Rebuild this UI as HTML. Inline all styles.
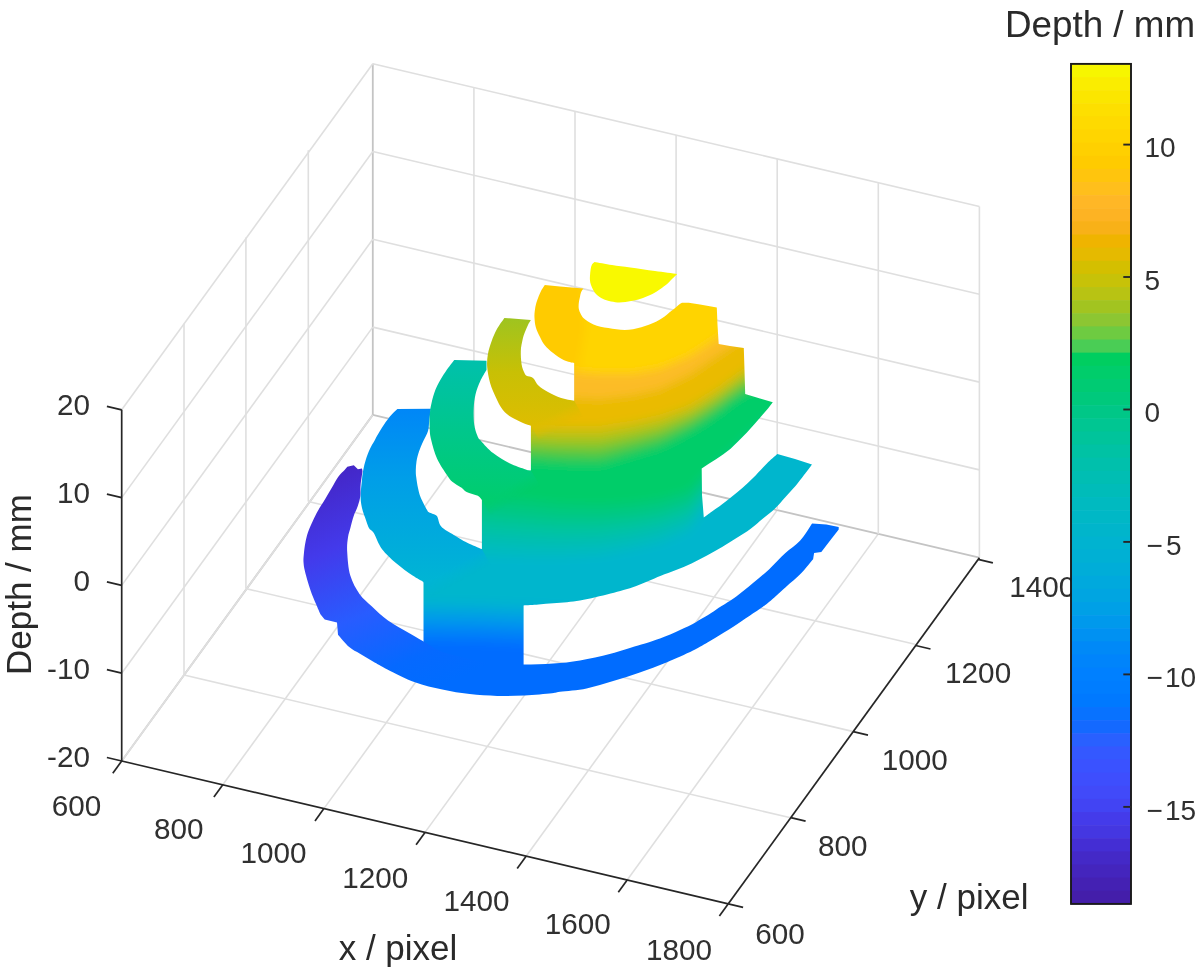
<!DOCTYPE html>
<html><head><meta charset="utf-8"><style>
html,body{margin:0;padding:0;background:#fff;overflow:hidden;width:1203px;height:979px;}
svg{display:block;filter:blur(0.45px);}
.g{stroke:#dfdfdf;stroke-width:1.6;}
.g2{stroke:#c4c4c4;stroke-width:1.8;}
.ax{stroke:#262626;stroke-width:1.7;}
.tk{font-family:"Liberation Sans",Arial,sans-serif;font-size:29.7px;fill:#303030;}
.ctk{font-family:"Liberation Sans",Arial,sans-serif;font-size:28px;fill:#303030;}
.lb{font-family:"Liberation Sans",Arial,sans-serif;font-size:35px;fill:#2a2a2a;}
.cbt{stroke:#262626;stroke-width:1.9;}
</style></head><body>
<svg width="1203" height="979" viewBox="0 0 1203 979">
<defs>
<clipPath id="blk"><path d="M544.8,284.9 L560.0,286.5 L583.4,288.6 C583.0,289.2 581.6,291.0 581.0,292.5 C580.4,294.0 580.2,296.1 579.8,297.8 C579.4,299.6 579.0,301.2 578.8,303.0 C578.6,304.8 578.5,307.1 578.8,308.8 C579.1,310.6 579.7,312.0 580.5,313.5 C581.3,315.0 582.1,316.7 583.4,318.0 C584.6,319.3 586.3,320.4 588.0,321.5 C589.7,322.6 591.4,323.6 593.5,324.5 C595.6,325.4 598.0,326.1 600.5,326.7 C603.0,327.3 605.6,327.7 608.3,328.1 C611.0,328.5 613.8,329.0 616.5,329.3 C619.2,329.6 622.0,330.0 624.8,330.0 C627.5,330.0 630.2,329.7 633.0,329.2 C635.8,328.7 638.7,327.9 641.3,327.2 C643.9,326.4 646.3,325.6 648.8,324.7 C651.2,323.8 653.8,322.8 656.0,321.7 C658.2,320.6 660.1,319.4 662.0,318.2 C663.9,317.0 665.4,315.7 667.1,314.4 C668.8,313.1 670.5,311.8 672.0,310.6 C673.5,309.4 675.0,308.1 676.3,307.0 C677.5,305.9 678.5,305.0 679.5,304.3 C680.5,303.6 681.6,303.1 682.0,302.8 L688.7,302.8 L700.0,304.5 L716.8,307.4 L717.5,325.0 L718.7,344.1 L730.0,346.0 L743.8,348.0 L744.5,370.0 L745.2,394.0 L760.0,398.5 L772.8,402.2 L768.0,408.5 L763.0,414.3 L755.0,423.5 L746.7,432.7 L738.5,441.0 L730.3,449.0 L723.0,454.5 L716.0,459.2 L708.8,463.8 L701.7,468.4 L702.0,495.0 L703.8,517.5 C705.2,516.5 709.0,513.7 712.0,511.5 C715.0,509.3 718.8,506.7 722.1,504.2 C725.4,501.7 728.6,499.2 732.0,496.5 C735.4,493.8 739.1,490.9 742.6,487.8 C746.1,484.7 749.6,481.4 753.0,478.0 C756.4,474.6 760.2,470.3 763.0,467.4 C765.8,464.5 767.6,462.7 770.0,460.5 C772.4,458.3 776.1,455.2 777.3,454.1 L795.0,459.0 L812.0,464.4 C810.7,466.2 806.7,471.4 804.0,475.0 C801.3,478.6 798.8,482.1 795.7,485.8 C792.6,489.5 788.9,493.2 785.5,497.0 C782.1,500.8 779.0,504.7 775.3,508.3 C771.5,511.9 767.1,515.1 763.0,518.5 C758.9,521.9 755.1,525.5 750.7,528.7 C746.3,532.0 741.3,534.9 736.5,538.0 C731.7,541.1 727.0,544.2 722.1,547.1 C717.2,550.0 712.1,552.8 707.0,555.5 C701.9,558.2 696.7,561.0 691.5,563.4 C686.3,565.8 681.1,568.0 676.0,570.0 C670.9,572.0 665.5,573.9 660.9,575.7 C656.3,577.5 652.6,579.3 648.5,581.0 C644.4,582.7 640.5,584.4 636.3,585.9 C632.1,587.4 627.8,588.7 623.5,590.0 C619.2,591.3 615.3,592.3 610.6,593.5 C605.9,594.7 600.4,596.1 595.3,597.3 C590.2,598.5 584.7,599.7 580.0,600.5 C575.3,601.3 571.5,601.7 567.0,602.2 C562.5,602.7 558.0,602.9 553.2,603.3 C548.5,603.7 543.4,604.1 538.5,604.5 C533.6,604.9 526.1,605.2 523.6,605.4 L523.6,664.6 L523.6,676.0 L480.0,673.0 L440.0,662.0 L423.5,652.0 L423.5,580.9 L450.0,565.0 L481.9,549.1 L481.9,500.1 L505.0,485.0 L530.9,470.5 L530.9,424.5 L550.0,412.0 L574.2,400.8 L574.2,363.1 C572.5,362.6 567.6,362.0 564.1,360.3 C560.6,358.6 556.3,355.5 553.1,353.0 C549.9,350.5 547.2,348.2 545.0,345.5 C542.8,342.8 541.5,340.1 540.0,337.0 C538.5,333.9 536.7,330.4 535.8,327.2 C534.9,324.0 534.7,320.8 534.5,318.0 C534.3,315.2 534.5,313.2 534.8,310.7 C535.1,308.2 535.6,305.4 536.3,303.0 C537.0,300.6 537.9,298.2 538.8,296.0 C539.7,293.8 540.5,291.9 541.5,290.0 C542.5,288.1 544.2,285.8 544.8,284.9 Z"/></clipPath>
<filter id="bl" x="-20%" y="-20%" width="140%" height="140%"><feGaussianBlur stdDeviation="5"/></filter>
<linearGradient id="gr6" gradientUnits="userSpaceOnUse" x1="335" y1="470" x2="430" y2="690">
<stop offset="0" stop-color="rgb(68,38,198)"/><stop offset="0.3" stop-color="rgb(67,58,235)"/><stop offset="0.6" stop-color="rgb(40,92,255)"/><stop offset="0.85" stop-color="rgb(5,105,255)"/><stop offset="1" stop-color="rgb(0,108,255)"/>
</linearGradient>
<linearGradient id="gr5" gradientUnits="userSpaceOnUse" x1="0" y1="410" x2="0" y2="580">
<stop offset="0" stop-color="rgb(0,135,247)"/><stop offset="0.4" stop-color="rgb(0,158,232)"/><stop offset="1" stop-color="rgb(0,180,212)"/>
</linearGradient>
<linearGradient id="gr4" gradientUnits="userSpaceOnUse" x1="0" y1="360" x2="0" y2="500">
<stop offset="0" stop-color="rgb(0,192,172)"/><stop offset="0.5" stop-color="rgb(0,199,140)"/><stop offset="1" stop-color="rgb(0,205,110)"/>
</linearGradient>
<linearGradient id="gr3" gradientUnits="userSpaceOnUse" x1="0" y1="318" x2="0" y2="426">
<stop offset="0" stop-color="rgb(158,196,32)"/><stop offset="0.5" stop-color="rgb(200,192,5)"/><stop offset="1" stop-color="rgb(222,189,0)"/>
</linearGradient>

<linearGradient id="mg3" gradientUnits="userSpaceOnUse" x1="553.5" y1="414.4" x2="561.2" y2="428.4"><stop offset="0" stop-color="#fff"/><stop offset="1" stop-color="#000"/></linearGradient>
<linearGradient id="mg4" gradientUnits="userSpaceOnUse" x1="507.4" y1="487.0" x2="515.7" y2="500.7"><stop offset="0" stop-color="#fff"/><stop offset="1" stop-color="#000"/></linearGradient>
<linearGradient id="mg5" gradientUnits="userSpaceOnUse" x1="453.7" y1="566.8" x2="461.3" y2="580.8"><stop offset="0" stop-color="#fff"/><stop offset="1" stop-color="#000"/></linearGradient>
<mask id="m3" maskUnits="userSpaceOnUse" x="0" y="0" width="1203" height="979"><rect width="1203" height="979" fill="url(#mg3)"/></mask>
<mask id="m4" maskUnits="userSpaceOnUse" x="0" y="0" width="1203" height="979"><rect width="1203" height="979" fill="url(#mg4)"/></mask>
<mask id="m5" maskUnits="userSpaceOnUse" x="0" y="0" width="1203" height="979"><rect width="1203" height="979" fill="url(#mg5)"/></mask>
</defs>
<rect width="1203" height="979" fill="#fff"/>
<g>
<line x1="121.7" y1="761" x2="372.8" y2="414.9" class="g2"/>
<line x1="222.8" y1="784.8" x2="473.9" y2="438.7" class="g"/>
<line x1="323.9" y1="808.6" x2="575" y2="462.5" class="g"/>
<line x1="425" y1="832.4" x2="676.1" y2="486.3" class="g"/>
<line x1="526.1" y1="856.2" x2="777.2" y2="510.1" class="g"/>
<line x1="627.2" y1="880" x2="878.3" y2="533.9" class="g"/>
<line x1="728.3" y1="903.8" x2="979.4" y2="557.7" class="g"/>
<line x1="184" y1="675" x2="790.6" y2="817.8" class="g"/>
<line x1="245.9" y1="588.6" x2="852.5" y2="731.4" class="g"/>
<line x1="308.3" y1="501.5" x2="914.9" y2="644.3" class="g"/>
<line x1="372.8" y1="414.9" x2="979.4" y2="557.7" class="g2"/>
<line x1="184" y1="675" x2="184" y2="323.8" class="g"/>
<line x1="245.9" y1="588.6" x2="245.9" y2="237.4" class="g"/>
<line x1="308.3" y1="501.5" x2="308.3" y2="150.3" class="g"/>
<line x1="372.8" y1="414.9" x2="372.8" y2="63.7" class="g2"/>
<line x1="121.7" y1="761" x2="372.8" y2="414.9" class="g"/>
<line x1="121.7" y1="673.2" x2="372.8" y2="327.1" class="g"/>
<line x1="121.7" y1="585.4" x2="372.8" y2="239.3" class="g"/>
<line x1="121.7" y1="497.6" x2="372.8" y2="151.5" class="g"/>
<line x1="121.7" y1="409.8" x2="372.8" y2="63.7" class="g"/>
<line x1="473.9" y1="438.7" x2="473.9" y2="87.5" class="g"/>
<line x1="575" y1="462.5" x2="575" y2="111.3" class="g"/>
<line x1="676.1" y1="486.3" x2="676.1" y2="135.1" class="g"/>
<line x1="777.2" y1="510.1" x2="777.2" y2="158.9" class="g"/>
<line x1="878.3" y1="533.9" x2="878.3" y2="182.7" class="g"/>
<line x1="979.4" y1="557.7" x2="979.4" y2="206.5" class="g"/>
<line x1="372.8" y1="327.1" x2="979.4" y2="469.9" class="g"/>
<line x1="372.8" y1="239.3" x2="979.4" y2="382.1" class="g"/>
<line x1="372.8" y1="151.5" x2="979.4" y2="294.3" class="g"/>
<line x1="372.8" y1="63.7" x2="979.4" y2="206.5" class="g"/>
</g>
<path d="M594.5,262.0 C597.4,262.5 606.0,264.1 612.0,265.0 C618.0,265.9 623.1,266.5 630.3,267.5 C637.5,268.5 647.2,269.9 655.0,271.0 C662.8,272.1 673.5,273.4 677.2,273.9 C676.3,274.8 673.7,277.3 672.0,279.0 C670.3,280.7 669.1,282.3 667.1,284.0 C665.1,285.7 662.5,287.5 660.0,289.2 C657.5,290.9 655.2,292.6 652.4,294.1 C649.6,295.6 646.1,296.9 643.0,298.0 C639.9,299.1 636.9,299.9 634.0,300.6 C631.1,301.3 628.3,301.7 625.5,302.0 C622.7,302.3 620.1,302.6 617.4,302.4 C614.6,302.2 611.5,301.6 609.0,301.0 C606.5,300.4 604.7,299.7 602.7,298.7 C600.7,297.7 598.5,296.4 597.0,295.0 C595.5,293.6 594.5,292.1 593.5,290.4 C592.5,288.7 591.6,286.8 591.0,285.0 C590.4,283.2 590.0,281.4 589.9,279.4 C589.8,277.4 590.1,274.8 590.2,273.0 C590.4,271.2 590.5,269.8 590.8,268.4 C591.1,267.0 591.4,265.6 592.0,264.5 C592.6,263.4 594.1,262.4 594.5,262.0 Z" fill="rgb(249,249,0)"/>
<g clip-path="url(#blk)"><g filter="url(#bl)">
<rect x="250" y="200" width="700" height="600" fill="rgb(255,212,0)"/>
<path d="M500.0,270.0 L582.0,270.0 L585.0,330.0 L578.0,372.0 L500.0,372.0 Z" fill="rgb(255,203,0)"/>
<path d="M300.0,362.0 L480.0,362.0 L530.0,366.0 L560.0,371.0 L600.0,374.0 L633.0,374.0 L660.0,369.0 L689.0,357.0 L705.0,347.0 L718.0,338.0 L732.0,326.0 L745.0,315.0 L770.0,300.0 L900.0,300.0 L900.0,760.0 L300.0,760.0 Z" fill="rgb(252,188,40)"/>
<path d="M300.0,390.0 L480.0,390.0 L530.0,393.0 L560.0,397.0 L600.0,399.0 L633.0,395.0 L660.0,389.0 L689.0,375.0 L705.0,364.0 L718.0,355.0 L732.0,346.0 L745.0,338.0 L770.0,330.0 L900.0,325.0 L900.0,760.0 L300.0,760.0 Z" fill="rgb(234,187,0)"/>
<path d="M300.0,424.0 L480.0,424.0 L530.0,425.0 L560.0,426.0 L600.0,426.0 L633.0,421.0 L660.0,415.0 L689.0,405.0 L705.0,396.0 L718.0,388.0 L732.0,378.0 L745.0,368.0 L770.0,355.0 L900.0,340.0 L900.0,760.0 L300.0,760.0 Z" fill="rgb(210,191,7)"/>
<path d="M300.0,431.2 L480.0,431.2 L530.0,432.4 L560.0,433.6 L600.0,433.8 L633.0,427.8 L660.0,421.4 L689.0,410.4 L705.0,401.2 L718.0,393.0 L732.0,382.8 L745.0,373.2 L770.0,361.0 L900.0,345.0 L900.0,760.0 L300.0,760.0 Z" fill="rgb(178,195,24)"/>
<path d="M300.0,438.4 L480.0,438.4 L530.0,439.8 L560.0,441.2 L600.0,441.6 L633.0,434.6 L660.0,427.8 L689.0,415.8 L705.0,406.4 L718.0,398.0 L732.0,387.6 L745.0,378.4 L770.0,367.0 L900.0,350.0 L900.0,760.0 L300.0,760.0 Z" fill="rgb(138,198,44)"/>
<path d="M300.0,445.6 L480.0,445.6 L530.0,447.2 L560.0,448.8 L600.0,449.4 L633.0,441.4 L660.0,434.2 L689.0,421.2 L705.0,411.6 L718.0,403.0 L732.0,392.4 L745.0,383.6 L770.0,373.0 L900.0,355.0 L900.0,760.0 L300.0,760.0 Z" fill="rgb(90,200,65)"/>
<path d="M300.0,452.8 L480.0,452.8 L530.0,454.6 L560.0,456.4 L600.0,457.2 L633.0,448.2 L660.0,440.6 L689.0,426.6 L705.0,416.8 L718.0,408.0 L732.0,397.2 L745.0,388.8 L770.0,379.0 L900.0,360.0 L900.0,760.0 L300.0,760.0 Z" fill="rgb(42,203,88)"/>
<path d="M300.0,460.0 L480.0,460.0 L530.0,462.0 L560.0,464.0 L600.0,465.0 L633.0,455.0 L660.0,447.0 L689.0,432.0 L705.0,422.0 L718.0,413.0 L732.0,402.0 L745.0,394.0 L770.0,385.0 L900.0,365.0 L900.0,760.0 L300.0,760.0 Z" fill="rgb(0,205,105)"/>
<path d="M300.0,496.0 L480.0,496.0 L530.0,500.0 L560.0,503.0 L600.0,504.0 L633.0,502.0 L660.0,498.0 L689.0,490.0 L705.0,472.0 L718.0,460.0 L732.0,448.0 L745.0,436.0 L770.0,412.0 L900.0,380.0 L900.0,760.0 L300.0,760.0 Z" fill="rgb(0,202,122)"/>
<path d="M300.0,508.0 L480.0,508.0 L530.0,511.6 L560.0,514.0 L600.0,514.4 L633.0,511.6 L660.0,507.2 L689.0,498.4 L705.0,479.6 L718.0,467.6 L732.0,455.6 L745.0,443.6 L770.0,419.6 L900.0,386.0 L900.0,760.0 L300.0,760.0 Z" fill="rgb(0,199,140)"/>
<path d="M300.0,520.0 L480.0,520.0 L530.0,523.2 L560.0,525.0 L600.0,524.8 L633.0,521.2 L660.0,516.4 L689.0,506.8 L705.0,487.2 L718.0,475.2 L732.0,463.2 L745.0,451.2 L770.0,427.2 L900.0,392.0 L900.0,760.0 L300.0,760.0 Z" fill="rgb(0,196,160)"/>
<path d="M300.0,532.0 L480.0,532.0 L530.0,534.8 L560.0,536.0 L600.0,535.2 L633.0,530.8 L660.0,525.6 L689.0,515.2 L705.0,494.8 L718.0,482.8 L732.0,470.8 L745.0,458.8 L770.0,434.8 L900.0,398.0 L900.0,760.0 L300.0,760.0 Z" fill="rgb(0,191,177)"/>
<path d="M300.0,544.0 L480.0,544.0 L530.0,546.4 L560.0,547.0 L600.0,545.6 L633.0,540.4 L660.0,534.8 L689.0,523.6 L705.0,502.4 L718.0,490.4 L732.0,478.4 L745.0,466.4 L770.0,442.4 L900.0,404.0 L900.0,760.0 L300.0,760.0 Z" fill="rgb(0,187,192)"/>
<path d="M300.0,556.0 L480.0,556.0 L530.0,558.0 L560.0,558.0 L600.0,556.0 L633.0,550.0 L660.0,544.0 L689.0,532.0 L705.0,510.0 L718.0,498.0 L732.0,486.0 L745.0,474.0 L770.0,450.0 L900.0,410.0 L900.0,760.0 L300.0,760.0 Z" fill="rgb(0,182,205)"/>
<path d="M300.0,600.0 L480.0,603.0 L530.0,605.0 L560.0,607.0 L600.0,610.0 L633.0,613.0 L660.0,615.0 L689.0,617.0 L705.0,619.0 L718.0,621.0 L732.0,623.0 L745.0,625.0 L770.0,629.0 L900.0,635.0 L900.0,760.0 L300.0,760.0 Z" fill="rgb(0,173,216)"/>
<path d="M300.0,608.0 L480.0,611.0 L530.0,613.0 L560.0,615.0 L600.0,617.8 L633.0,620.6 L660.0,622.6 L689.0,624.6 L705.0,626.6 L718.0,628.6 L732.0,630.6 L745.0,632.6 L770.0,636.2 L900.0,642.0 L900.0,760.0 L300.0,760.0 Z" fill="rgb(0,161,227)"/>
<path d="M300.0,616.0 L480.0,619.0 L530.0,621.0 L560.0,623.0 L600.0,625.6 L633.0,628.2 L660.0,630.2 L689.0,632.2 L705.0,634.2 L718.0,636.2 L732.0,638.2 L745.0,640.2 L770.0,643.4 L900.0,649.0 L900.0,760.0 L300.0,760.0 Z" fill="rgb(0,148,238)"/>
<path d="M300.0,624.0 L480.0,627.0 L530.0,629.0 L560.0,631.0 L600.0,633.4 L633.0,635.8 L660.0,637.8 L689.0,639.8 L705.0,641.8 L718.0,643.8 L732.0,645.8 L745.0,647.8 L770.0,650.6 L900.0,656.0 L900.0,760.0 L300.0,760.0 Z" fill="rgb(0,133,246)"/>
<path d="M300.0,632.0 L480.0,635.0 L530.0,637.0 L560.0,639.0 L600.0,641.2 L633.0,643.4 L660.0,645.4 L689.0,647.4 L705.0,649.4 L718.0,651.4 L732.0,653.4 L745.0,655.4 L770.0,657.8 L900.0,663.0 L900.0,760.0 L300.0,760.0 Z" fill="rgb(0,120,252)"/>
<path d="M300.0,640.0 L480.0,643.0 L530.0,645.0 L560.0,647.0 L600.0,649.0 L633.0,651.0 L660.0,653.0 L689.0,655.0 L705.0,657.0 L718.0,659.0 L732.0,661.0 L745.0,663.0 L770.0,665.0 L900.0,670.0 L900.0,760.0 L300.0,760.0 Z" fill="rgb(0,108,255)"/>
</g></g>
<path d="M397.4,409.1 L431.0,408.7 C430.7,410.6 429.8,416.3 429.3,420.0 C428.8,423.7 429.1,427.1 428.1,430.7 C427.1,434.3 424.6,438.0 423.1,441.5 C421.6,445.0 420.1,448.2 419.0,451.5 C417.9,454.8 417.0,458.4 416.5,461.5 C416.0,464.6 415.9,467.4 415.8,470.0 C415.8,472.6 415.8,474.1 416.2,477.1 C416.6,480.1 417.2,484.6 418.0,488.0 C418.8,491.4 419.2,493.9 420.7,497.5 C422.2,501.1 425.5,507.3 426.9,509.8 C428.3,512.3 427.9,511.6 428.9,512.3 C429.9,513.0 431.6,513.2 433.0,513.9 C434.4,514.6 435.7,514.2 437.1,516.3 C438.5,518.4 438.5,523.5 441.2,526.6 C443.9,529.7 450.2,532.7 453.4,534.7 C456.6,536.8 458.0,537.5 460.4,538.9 C462.8,540.3 464.1,541.2 467.7,542.9 C471.3,544.6 479.5,548.1 481.9,549.1 L491.5,566.7 L433.1,598.5 L423.5,582.0 C421.7,580.9 417.2,578.7 412.6,575.6 C408.1,572.5 401.3,567.7 396.2,563.3 C391.1,558.9 385.6,554.0 381.9,549.0 C378.2,544.0 375.9,536.4 373.8,533.0 C371.7,529.6 370.6,530.6 369.3,528.5 C368.0,526.4 367.3,523.8 366.1,520.4 C364.9,517.0 362.9,512.2 362.0,508.1 C361.1,504.0 360.6,500.6 360.6,495.8 C360.6,491.0 361.6,483.8 362.0,479.5 C362.4,475.2 362.7,473.1 363.3,469.8 C363.9,466.5 364.7,463.3 365.8,459.8 C366.9,456.3 368.4,452.3 369.9,449.0 C371.4,445.7 372.9,443.3 374.9,439.9 C376.8,436.4 379.1,432.2 381.6,428.3 C384.1,424.4 387.3,419.8 389.9,416.6 C392.5,413.4 396.1,410.4 397.4,409.1 Z" fill="url(#gr5)" mask="url(#m5)"/>
<path d="M454.3,360.1 L486.5,360.8 L486.5,370.1 C485.4,372.0 481.9,377.4 480.1,381.5 C478.3,385.6 476.6,389.9 475.5,394.4 C474.4,398.9 473.9,403.7 473.7,408.7 C473.5,413.7 473.6,419.8 474.2,424.4 C474.8,428.9 476.4,433.2 477.5,436.0 C478.6,438.8 478.4,438.1 481.0,441.0 C483.6,443.9 488.4,449.4 493.1,453.1 C497.9,456.8 504.1,460.6 509.5,463.3 C515.0,466.0 522.2,468.3 525.8,469.5 C529.4,470.7 530.0,470.3 530.9,470.5 L541.2,487.6 L492.2,517.2 L481.9,500.1 C481.2,499.4 480.4,497.2 477.9,495.8 C475.3,494.4 469.3,493.2 466.6,491.9 C463.9,490.6 464.0,489.5 461.6,487.8 C459.2,486.1 454.7,483.8 452.3,481.7 C449.9,479.6 449.8,479.3 447.3,475.5 C444.8,471.7 439.8,464.6 437.1,458.7 C434.4,452.8 432.4,445.0 431.2,440.0 C430.0,435.0 429.9,433.0 429.7,428.7 C429.4,424.4 429.3,419.2 429.7,414.4 C430.1,409.6 430.9,404.9 432.2,400.1 C433.4,395.3 434.9,390.6 437.2,385.8 C439.4,381.0 442.8,375.8 445.7,371.5 C448.6,367.2 452.9,362.0 454.3,360.1 Z" fill="url(#gr4)" mask="url(#m4)"/>
<path d="M504.4,317.9 L530.8,320.0 C530.3,320.8 528.8,323.3 528.0,325.0 C527.2,326.7 526.5,328.2 525.8,330.0 C525.0,331.8 524.1,334.1 523.5,336.0 C522.9,337.9 522.6,339.5 522.2,341.5 C521.8,343.5 521.2,345.9 521.0,348.0 C520.8,350.1 520.8,352.1 520.8,354.3 C520.8,356.5 521.0,358.9 521.2,361.0 C521.4,363.1 521.7,365.4 522.2,367.2 C522.7,369.0 523.3,370.6 524.0,372.0 C524.7,373.4 525.0,374.8 526.5,375.8 C528.0,376.8 531.0,376.2 533.0,377.9 C535.0,379.6 536.2,383.4 538.7,385.8 C541.2,388.2 544.4,390.0 548.0,392.0 C551.6,394.0 556.0,396.3 560.4,397.8 C564.8,399.3 571.9,400.3 574.2,400.8 L583.8,418.3 L540.5,442.0 L530.9,425.7 C529.6,425.2 526.2,424.4 523.0,423.0 C519.8,421.6 514.9,419.4 511.5,417.3 C508.1,415.2 505.5,413.5 502.9,410.1 C500.3,406.8 497.9,401.7 495.8,397.2 C493.7,392.7 491.5,387.9 490.1,382.9 C488.7,377.9 487.6,372.0 487.2,367.2 C486.8,362.4 487.2,358.6 487.9,354.3 C488.6,350.0 489.9,345.8 491.5,341.5 C493.1,337.2 495.1,332.5 497.2,328.6 C499.3,324.7 503.2,319.7 504.4,317.9 Z" fill="url(#gr3)" mask="url(#m3)"/>
<path d="M344.8,469.7 C343.7,470.9 340.5,473.7 338.3,476.7 C336.1,479.7 334.0,484.0 331.8,487.7 C329.6,491.4 327.5,495.2 325.2,499.1 C322.9,503.0 319.9,507.4 317.8,511.0 C315.8,514.6 314.5,517.2 312.9,520.8 C311.3,524.3 309.2,528.8 308.0,532.3 C306.8,535.8 306.2,538.6 305.5,542.1 C304.8,545.6 304.2,550.2 303.9,553.5 C303.6,556.8 303.3,559.0 303.5,562.0 C303.7,565.0 303.9,566.9 305.0,571.5 C306.1,576.1 308.6,584.5 310.4,589.9 C312.2,595.3 314.3,599.9 316.0,604.0 C317.7,608.1 319.8,612.7 320.6,614.4 L324.7,619.5 L337.0,622.6 L338.0,634.8 C339.9,636.8 345.5,643.9 349.2,647.1 C352.9,650.3 356.0,651.4 360.0,653.8 C364.0,656.2 368.4,658.9 373.0,661.5 C377.6,664.1 380.4,665.9 387.4,669.4 C394.4,672.9 405.8,678.9 414.9,682.2 C424.0,685.6 433.2,687.5 442.3,689.5 C451.4,691.5 460.6,693.0 469.7,694.1 C478.8,695.2 488.0,695.7 497.2,695.9 C506.4,696.1 515.5,696.0 524.6,695.5 C533.7,695.0 546.1,693.8 552.0,693.2 C557.9,692.6 554.2,692.6 560.0,691.8 C565.8,691.0 577.7,690.2 586.6,688.4 C595.5,686.6 604.3,683.8 613.2,681.1 C622.1,678.5 630.9,675.6 639.8,672.5 C648.7,669.4 657.5,666.2 666.4,662.5 C675.3,658.8 685.7,654.1 693.0,650.5 C700.3,646.9 704.0,644.5 710.0,641.0 C716.0,637.5 723.1,633.2 729.0,629.5 C734.9,625.8 740.2,622.1 745.4,618.6 C750.6,615.1 756.1,611.5 760.0,608.8 C763.9,606.0 764.8,605.7 769.0,602.1 C773.2,598.5 780.1,592.2 785.4,587.4 C790.7,582.6 796.3,578.2 800.9,573.5 C805.5,568.8 811.1,561.6 813.1,559.2 L814.1,553.1 L821.3,552.1 L831.5,538.8 L838.7,529.6 L838.7,527.1 L826.4,524.5 L812.1,523.5 C810.1,526.4 804.5,535.9 800.0,540.8 C795.5,545.7 790.6,548.3 785.4,553.1 C780.2,557.9 774.5,564.4 769.0,569.4 C763.5,574.4 758.2,578.8 752.7,583.3 C747.2,587.8 741.8,592.4 736.3,596.4 C730.8,600.4 723.9,604.4 720.0,607.0 C716.1,609.6 716.7,609.6 712.7,612.1 C708.8,614.6 701.8,618.9 696.3,621.9 C690.8,624.9 686.0,627.2 680.0,630.0 C674.0,632.8 666.5,636.1 660.0,638.5 C653.5,640.9 649.5,642.1 641.3,644.6 C633.1,647.1 620.8,651.1 610.6,653.8 C600.4,656.4 589.6,658.9 580.0,660.5 C570.4,662.1 562.6,662.9 553.2,663.6 C543.8,664.3 533.3,664.5 523.6,664.6 C513.9,664.7 504.8,665.1 495.0,664.0 C485.2,662.9 474.2,660.2 465.0,658.0 C455.8,655.8 447.0,653.8 440.0,651.0 C433.0,648.2 428.1,644.0 422.8,641.0 C417.6,638.0 414.3,636.2 408.5,632.8 C402.7,629.4 394.1,624.9 388.0,620.5 C381.9,616.1 376.4,610.6 371.7,606.2 C366.9,601.8 363.1,599.1 359.5,594.0 C355.9,588.9 352.4,582.6 350.3,575.6 C348.2,568.6 347.6,558.4 347.2,552.0 C346.8,545.6 347.4,541.3 348.0,537.2 C348.6,533.1 349.6,530.9 350.5,527.4 C351.4,523.9 352.5,519.5 353.7,516.0 C354.9,512.5 356.7,509.4 357.8,506.1 C358.9,502.8 359.8,499.8 360.3,496.3 C360.8,492.8 360.2,489.2 360.6,485.0 C361.0,480.8 362.2,473.6 362.5,471.3 L362.0,468.5 L357.9,469.3 L353.8,465.2 L347.3,466.8 L344.8,469.7 Z" fill="url(#gr6)"/>
<g>
<line x1="121.7" y1="761" x2="728.3" y2="903.8" class="ax"/>
<line x1="728.3" y1="903.8" x2="979.4" y2="557.7" class="ax"/>
<line x1="121.7" y1="761" x2="121.7" y2="409.8" class="ax"/>
<line x1="121.7" y1="761" x2="112.8" y2="773.3" class="ax"/>
<line x1="222.8" y1="784.8" x2="213.9" y2="797.1" class="ax"/>
<line x1="323.9" y1="808.6" x2="315" y2="820.9" class="ax"/>
<line x1="425" y1="832.4" x2="416.1" y2="844.7" class="ax"/>
<line x1="526.1" y1="856.2" x2="517.2" y2="868.5" class="ax"/>
<line x1="627.2" y1="880" x2="618.3" y2="892.3" class="ax"/>
<line x1="728.3" y1="903.8" x2="719.4" y2="916.1" class="ax"/>
<line x1="728.3" y1="903.8" x2="743.1" y2="907.3" class="ax"/>
<line x1="790.8" y1="817.7" x2="805.6" y2="821.2" class="ax"/>
<line x1="853.2" y1="731.6" x2="868" y2="735.1" class="ax"/>
<line x1="915.7" y1="645.5" x2="930.5" y2="649" class="ax"/>
<line x1="978.1" y1="559.4" x2="992.9" y2="562.9" class="ax"/>
<line x1="121.7" y1="761" x2="106.9" y2="757.5" class="ax"/>
<line x1="121.7" y1="673.2" x2="106.9" y2="669.7" class="ax"/>
<line x1="121.7" y1="585.4" x2="106.9" y2="581.9" class="ax"/>
<line x1="121.7" y1="497.6" x2="106.9" y2="494.1" class="ax"/>
<line x1="121.7" y1="409.8" x2="106.9" y2="406.3" class="ax"/>
</g>
<g>
<text x="101.4" y="815.7" text-anchor="end" class="tk">600</text>
<text x="203.6" y="839.4" text-anchor="end" class="tk">800</text>
<text x="306.6" y="863.1" text-anchor="end" class="tk">1000</text>
<text x="408.3" y="888.3" text-anchor="end" class="tk">1200</text>
<text x="509.5" y="911" text-anchor="end" class="tk">1400</text>
<text x="610.8" y="933.6" text-anchor="end" class="tk">1600</text>
<text x="712.1" y="959.8" text-anchor="end" class="tk">1800</text>
<text x="755.3" y="943.7" text-anchor="start" class="tk">600</text>
<text x="817.9" y="855.8" text-anchor="start" class="tk">800</text>
<text x="881.7" y="770" text-anchor="start" class="tk">1000</text>
<text x="945.1" y="683" text-anchor="start" class="tk">1200</text>
<text x="1009.2" y="597.1" text-anchor="start" class="tk">1400</text>
<text x="90" y="415.4" text-anchor="end" class="tk">20</text>
<text x="90" y="503.2" text-anchor="end" class="tk">10</text>
<text x="90" y="591" text-anchor="end" class="tk">0</text>
<text x="90" y="678.8" text-anchor="end" class="tk">-10</text>
<text x="90" y="766.6" text-anchor="end" class="tk">-20</text>
</g>
<text x="398" y="959.6" text-anchor="middle" class="lb">x / pixel</text>
<text x="969.2" y="909" text-anchor="middle" class="lb">y / pixel</text>
<text transform="translate(30.6,584.6) rotate(-90)" text-anchor="middle" class="lb">Depth / mm</text>
<g>
<rect x="1071.0" y="63.90" width="60.0" height="13.72" fill="rgb(247,246,0)"/>
<rect x="1071.0" y="77.03" width="60.0" height="13.72" fill="rgb(250,237,0)"/>
<rect x="1071.0" y="90.15" width="60.0" height="13.72" fill="rgb(251,230,0)"/>
<rect x="1071.0" y="103.28" width="60.0" height="13.72" fill="rgb(253,223,0)"/>
<rect x="1071.0" y="116.40" width="60.0" height="13.72" fill="rgb(254,218,0)"/>
<rect x="1071.0" y="129.53" width="60.0" height="13.72" fill="rgb(255,213,0)"/>
<rect x="1071.0" y="142.65" width="60.0" height="13.72" fill="rgb(255,208,0)"/>
<rect x="1071.0" y="155.78" width="60.0" height="13.72" fill="rgb(255,203,0)"/>
<rect x="1071.0" y="168.90" width="60.0" height="13.72" fill="rgb(255,197,13)"/>
<rect x="1071.0" y="182.03" width="60.0" height="13.72" fill="rgb(255,191,28)"/>
<rect x="1071.0" y="195.15" width="60.0" height="13.72" fill="rgb(255,183,38)"/>
<rect x="1071.0" y="208.28" width="60.0" height="13.72" fill="rgb(253,179,35)"/>
<rect x="1071.0" y="221.40" width="60.0" height="13.72" fill="rgb(248,177,24)"/>
<rect x="1071.0" y="234.53" width="60.0" height="13.72" fill="rgb(239,180,0)"/>
<rect x="1071.0" y="247.65" width="60.0" height="13.72" fill="rgb(229,186,0)"/>
<rect x="1071.0" y="260.77" width="60.0" height="13.72" fill="rgb(212,191,0)"/>
<rect x="1071.0" y="273.90" width="60.0" height="13.72" fill="rgb(199,194,8)"/>
<rect x="1071.0" y="287.02" width="60.0" height="13.72" fill="rgb(184,195,19)"/>
<rect x="1071.0" y="300.15" width="60.0" height="13.72" fill="rgb(162,196,32)"/>
<rect x="1071.0" y="313.27" width="60.0" height="13.72" fill="rgb(140,198,50)"/>
<rect x="1071.0" y="326.40" width="60.0" height="13.72" fill="rgb(110,203,65)"/>
<rect x="1071.0" y="339.52" width="60.0" height="13.72" fill="rgb(74,205,85)"/>
<rect x="1071.0" y="352.65" width="60.0" height="13.72" fill="rgb(0,206,96)"/>
<rect x="1071.0" y="365.77" width="60.0" height="13.72" fill="rgb(0,205,107)"/>
<rect x="1071.0" y="378.90" width="60.0" height="13.72" fill="rgb(0,203,115)"/>
<rect x="1071.0" y="392.02" width="60.0" height="13.72" fill="rgb(0,201,124)"/>
<rect x="1071.0" y="405.15" width="60.0" height="13.72" fill="rgb(0,199,135)"/>
<rect x="1071.0" y="418.27" width="60.0" height="13.72" fill="rgb(0,198,146)"/>
<rect x="1071.0" y="431.40" width="60.0" height="13.72" fill="rgb(0,196,155)"/>
<rect x="1071.0" y="444.52" width="60.0" height="13.72" fill="rgb(0,194,164)"/>
<rect x="1071.0" y="457.65" width="60.0" height="13.72" fill="rgb(0,192,172)"/>
<rect x="1071.0" y="470.77" width="60.0" height="13.72" fill="rgb(0,190,179)"/>
<rect x="1071.0" y="483.90" width="60.0" height="13.72" fill="rgb(0,188,185)"/>
<rect x="1071.0" y="497.02" width="60.0" height="13.72" fill="rgb(0,186,192)"/>
<rect x="1071.0" y="510.15" width="60.0" height="13.72" fill="rgb(0,184,198)"/>
<rect x="1071.0" y="523.27" width="60.0" height="13.72" fill="rgb(0,181,203)"/>
<rect x="1071.0" y="536.40" width="60.0" height="13.72" fill="rgb(0,179,208)"/>
<rect x="1071.0" y="549.52" width="60.0" height="13.72" fill="rgb(0,176,212)"/>
<rect x="1071.0" y="562.65" width="60.0" height="13.72" fill="rgb(0,173,216)"/>
<rect x="1071.0" y="575.77" width="60.0" height="13.72" fill="rgb(0,169,221)"/>
<rect x="1071.0" y="588.90" width="60.0" height="13.72" fill="rgb(0,165,225)"/>
<rect x="1071.0" y="602.02" width="60.0" height="13.72" fill="rgb(0,160,230)"/>
<rect x="1071.0" y="615.15" width="60.0" height="13.72" fill="rgb(0,153,236)"/>
<rect x="1071.0" y="628.27" width="60.0" height="13.72" fill="rgb(0,145,242)"/>
<rect x="1071.0" y="641.40" width="60.0" height="13.72" fill="rgb(0,137,247)"/>
<rect x="1071.0" y="654.52" width="60.0" height="13.72" fill="rgb(0,132,251)"/>
<rect x="1071.0" y="667.65" width="60.0" height="13.72" fill="rgb(0,128,255)"/>
<rect x="1071.0" y="680.77" width="60.0" height="13.72" fill="rgb(0,125,255)"/>
<rect x="1071.0" y="693.90" width="60.0" height="13.72" fill="rgb(0,121,255)"/>
<rect x="1071.0" y="707.02" width="60.0" height="13.72" fill="rgb(8,114,255)"/>
<rect x="1071.0" y="720.15" width="60.0" height="13.72" fill="rgb(20,105,255)"/>
<rect x="1071.0" y="733.27" width="60.0" height="13.72" fill="rgb(41,96,255)"/>
<rect x="1071.0" y="746.40" width="60.0" height="13.72" fill="rgb(52,88,255)"/>
<rect x="1071.0" y="759.52" width="60.0" height="13.72" fill="rgb(58,82,255)"/>
<rect x="1071.0" y="772.65" width="60.0" height="13.72" fill="rgb(62,78,253)"/>
<rect x="1071.0" y="785.77" width="60.0" height="13.72" fill="rgb(65,74,249)"/>
<rect x="1071.0" y="798.90" width="60.0" height="13.72" fill="rgb(66,68,243)"/>
<rect x="1071.0" y="812.02" width="60.0" height="13.72" fill="rgb(68,59,234)"/>
<rect x="1071.0" y="825.15" width="60.0" height="13.72" fill="rgb(68,55,225)"/>
<rect x="1071.0" y="838.27" width="60.0" height="13.72" fill="rgb(68,46,212)"/>
<rect x="1071.0" y="851.40" width="60.0" height="13.72" fill="rgb(68,41,199)"/>
<rect x="1071.0" y="864.52" width="60.0" height="13.72" fill="rgb(68,37,189)"/>
<rect x="1071.0" y="877.65" width="60.0" height="13.72" fill="rgb(68,33,179)"/>
<rect x="1071.0" y="890.77" width="60.0" height="13.72" fill="rgb(68,30,170)"/>
</g>
<rect x="1071.0" y="63.9" width="60.0" height="840.0" fill="none" stroke="#1a1a1a" stroke-width="1.9"/>
<line x1="1123.3" y1="144.6" x2="1131" y2="144.6" class="cbt"/>
<text x="1144.5" y="157.2" class="ctk">10</text>
<line x1="1123.3" y1="277.0" x2="1131" y2="277.0" class="cbt"/>
<text x="1144.5" y="289.6" class="ctk">5</text>
<line x1="1123.3" y1="409.5" x2="1131" y2="409.5" class="cbt"/>
<text x="1144.5" y="422.1" class="ctk">0</text>
<line x1="1123.3" y1="541.9" x2="1131" y2="541.9" class="cbt"/>
<text x="1146.5" y="554.5" class="ctk">−</text>
<text x="1166.0" y="554.5" class="ctk" text-anchor="start">5</text>
<line x1="1123.3" y1="674.4" x2="1131" y2="674.4" class="cbt"/>
<text x="1146.5" y="687.0" class="ctk">−</text>
<text x="1165.0" y="687.0" class="ctk" text-anchor="start">10</text>
<line x1="1123.3" y1="806.9" x2="1131" y2="806.9" class="cbt"/>
<text x="1146.5" y="819.5" class="ctk">−</text>
<text x="1165.0" y="819.5" class="ctk" text-anchor="start">15</text>
<text x="1100" y="37.2" text-anchor="middle" class="lb" style="font-size:36.8px">Depth / mm</text>
</svg>
</body></html>
